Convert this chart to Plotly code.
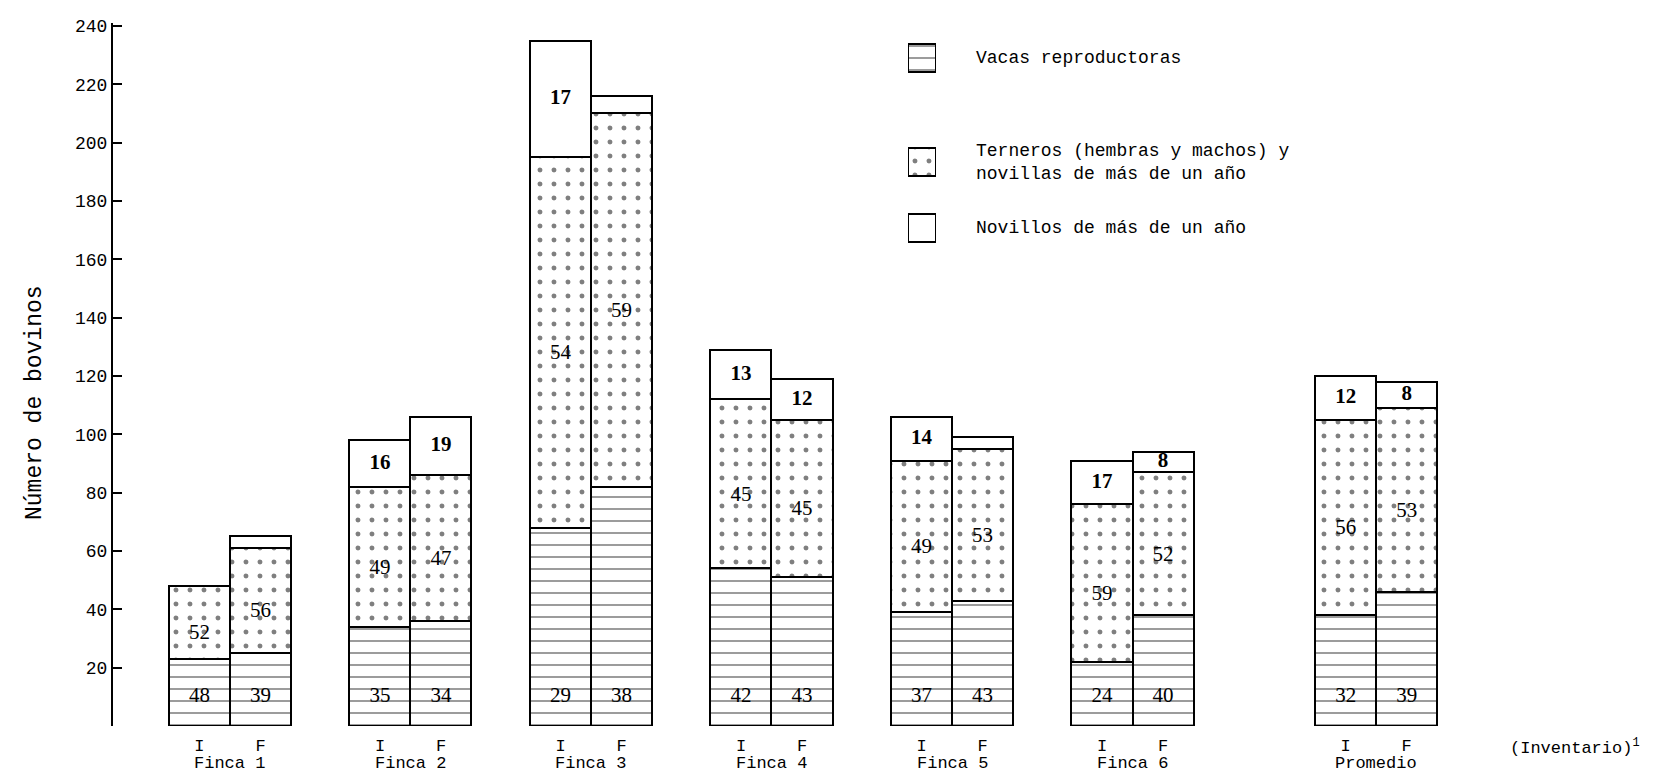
import plotly.graph_objects as go

# ---- data ----
groups = ["Finca 1", "Finca 2", "Finca 3", "Finca 4", "Finca 5", "Finca 6", "Promedio"]
inventories = ["I", "F"]
# number of animals per bar (order: group1 I, group1 F, group2 I, ...)
vacas = [23, 25, 34, 36, 68, 82, 54, 51, 39, 43, 22, 38, 38, 46]
terneros = [25, 36, 48, 50, 127, 128, 58, 54, 52, 52, 54, 49, 67, 63]
novillos = [0, 4, 16, 20, 40, 6, 17, 14, 15, 4, 15, 7, 15, 9]
# percentages printed in each segment (None = not printed)
pct_vacas = [48, 39, 35, 34, 29, 38, 42, 43, 37, 43, 24, 40, 32, 39]
pct_terneros = [52, 56, 49, 47, 54, 59, 45, 45, 49, 53, 59, 52, 56, 53]
pct_novillos = [None, None, 16, 19, 17, None, 13, 12, 14, None, 17, 8, 12, 8]
y_ticks = [20, 40, 60, 80, 100, 120, 140, 160, 180, 200, 220, 240]
series_names = ["Vacas reproductoras",
                "Terneros (hembras y machos) y<br>novillas de más de un año",
                "Novillos de más de un año"]

# ---- styles ----
MONO = "Liberation Mono"
SERIF = "Liberation Serif"
W, H = 1657, 771
ML, MR, MT, MB = 105, 0, 15, 53
PW, PH = W - ML - MR, H - MT - MB
bar_w = 0.338
line = dict(color="black", width=2.5)
patterns = [dict(shape="-", size=12, solidity=0.14, fgcolor="#111", bgcolor="white"),
            dict(shape=".", size=14, solidity=0.1, fgcolor="#000", bgcolor="white"),
            None]

centers = [i + (0.35 if g == "Promedio" else 0.0) for i, g in enumerate(groups)]
xs, tick_text = [], []
for c in centers:
    for k, inv in enumerate(inventories):
        xs.append(c + (k - 0.5) * bar_w)
        tick_text.append(inv)

fig = go.Figure()
for vals, name, pat in zip([vacas, terneros, novillos], series_names, patterns):
    mk = dict(color="white", line=line)
    if pat:
        mk["pattern"] = pat
    fig.add_trace(go.Bar(x=xs, y=vals, width=bar_w, name=name.replace("<br>", " "),
                         marker=mk, showlegend=False, hoverinfo="skip"))

# segment labels
lx, ly, lt = [], [], []
for i, x in enumerate(xs):
    v, t, n = vacas[i], terneros[i], novillos[i]
    lx.append(x); ly.append(10); lt.append(str(pct_vacas[i]))
    lx.append(x); ly.append(v + t / 2 - 4); lt.append(str(pct_terneros[i]))
    if pct_novillos[i] is not None:
        lx.append(x); ly.append(v + t + n / 2); lt.append("<b>%d</b>" % pct_novillos[i])
fig.add_trace(go.Scatter(
    x=lx, y=ly, text=lt, mode="text",
    textfont=dict(family=SERIF, size=21, color="black"),
    showlegend=False, hoverinfo="skip"))

# ---- legend: patterned swatches on a small overlay axis + text ----
leg_rows_px = [50, 154, 220]      # vertical centres (pixels from top)
box_x0, box_x1, box_h = 900, 928, 28
text_x = 966
for row, name, pat in zip(leg_rows_px, series_names, patterns):
    mk = dict(color="white", line=dict(color="black", width=2.5))
    if pat:
        mk["pattern"] = pat
    fig.add_trace(go.Bar(x=[1], y=[row], base=0, orientation="h", width=box_h,
                         marker=mk, xaxis="x2", yaxis="y2",
                         showlegend=False, hoverinfo="skip"))
    fig.add_annotation(x=(text_x - ML) / PW, y=(H - MB - row) / PH,
                       xref="paper", yref="paper", text=name, showarrow=False,
                       xanchor="left", yanchor="middle", align="left",
                       font=dict(family=MONO, size=18, color="black"))

# group labels
for c, g in zip(centers, groups):
    fig.add_annotation(x=c, y=-0.053, xref="x", yref="paper", text=g,
                       showarrow=False, yanchor="middle",
                       font=dict(family=MONO, size=17, color="black"))
fig.add_annotation(x=0.985, y=-0.03, xref="paper", yref="paper",
                   text="(Inventario)<sup>1</sup>", showarrow=False,
                   xanchor="right", yanchor="middle",
                   font=dict(family=MONO, size=17, color="black"))
# y axis title
fig.add_annotation(x=(27 - ML) / PW, y=(H - MB - 395) / PH, xref="paper", yref="paper",
                   text="Número de bovinos", showarrow=False, textangle=-90,
                   xanchor="center", yanchor="middle",
                   font=dict(family=MONO, size=23, color="black"))

y2_top, y2_bot = 20, 250
fig.update_layout(
    width=W, height=H,
    margin=dict(l=ML, r=MR, t=MT, b=MB),
    barmode="stack", bargap=0,
    plot_bgcolor="white", paper_bgcolor="white",
    font=dict(family=MONO, color="black"),
    showlegend=False,
    xaxis=dict(range=[-0.648, 7.95], tickvals=xs, ticktext=tick_text,
               showline=False, showgrid=False, zeroline=False,
               ticks="outside", ticklen=4, tickcolor="rgba(0,0,0,0)",
               tickfont=dict(family=MONO, size=17)),
    yaxis=dict(range=[0, 241], tickvals=y_ticks, showline=True,
               linecolor="black", linewidth=2, showgrid=False, zeroline=False,
               ticks="inside", ticklen=9, tickwidth=2, tickcolor="black",
               tickfont=dict(family=MONO, size=18)),
    xaxis2=dict(domain=[(box_x0 - ML) / PW, (box_x1 - ML) / PW], range=[0, 1],
                anchor="y2", visible=False, fixedrange=True),
    yaxis2=dict(domain=[(H - MB - y2_bot) / PH, (H - MB - y2_top) / PH],
                range=[y2_bot, y2_top], anchor="x2", visible=False, fixedrange=True),
)
fig.write_html("out.html")
